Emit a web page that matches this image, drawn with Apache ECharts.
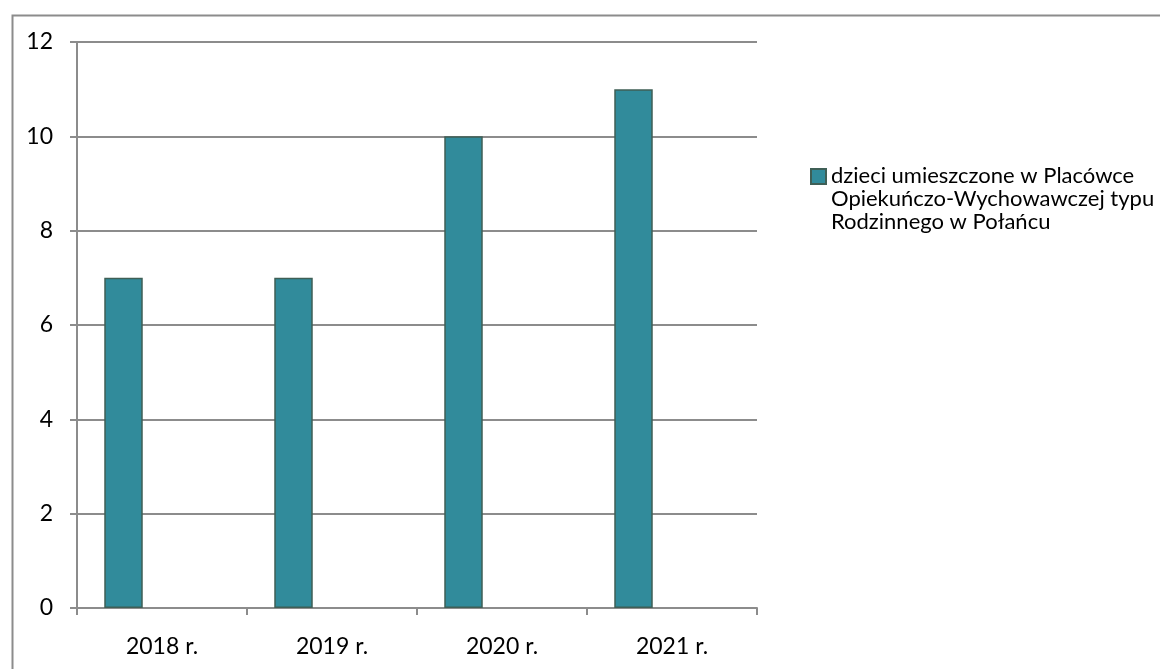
<!DOCTYPE html>
<html>
<head>
<meta charset="utf-8">
<script src="https://cdn.jsdelivr.net/npm/echarts@6/dist/echarts.min.js"></script>
<style>html,body{margin:0;padding:0;background:#fff;}#c{width:1160px;height:669px;}</style>
</head>
<body>
<div id="c"></div>
<script>
const categories = ['2018 r.', '2019 r.', '2020 r.', '2021 r.'];
const seriesName = 'dzieci umieszczone w Placówce\nOpiekuńczo-Wychowawczej typu\nRodzinnego w Połańcu';
const values = [7, 7, 10, 11];
const yTicks = {min: 0, max: 12, interval: 2};

const chart = echarts.init(document.getElementById('c'));
const font = 'Lato, "Open Sans", sans-serif';
const gridColor = '#8c8c8c';
const lh = 22.75;
const iconSize = 15;
const iconH = iconSize + 2 * lh;
chart.setOption({
  animation: false,
  graphic: [{
    type: 'rect', left: 10, top: 13, shape: {x: 0, y: 0, width: 1200, height: 700},
    style: {fill: 'none', stroke: gridColor, lineWidth: 2}, silent: true
  }],
  grid: {left: 77, right: 403, top: 42, bottom: 61, containLabel: false},
  legend: {
    data: [seriesName],
    orient: 'vertical',
    left: 810, top: 165, padding: 0,
    itemWidth: iconSize, itemHeight: iconH, itemGap: 0,
    icon: 'path://M0,0L' + iconSize + ',0L' + iconSize + ',' + iconSize + 'L0,' + iconSize + 'Z M0,' + iconH + 'L0,' + iconH,
    textStyle: {fontFamily: font, fontSize: 22, color: '#000', lineHeight: lh}
  },
  xAxis: {
    type: 'category', data: categories,
    axisLine: {lineStyle: {color: gridColor, width: 2}},
    axisTick: {show: true, length: 7, lineStyle: {color: gridColor, width: 2}},
    axisLabel: {fontFamily: font, fontSize: 23, color: '#000', margin: 27}
  },
  yAxis: {
    type: 'value', min: yTicks.min, max: yTicks.max, interval: yTicks.interval,
    axisLine: {show: true, lineStyle: {color: gridColor, width: 2}},
    axisTick: {show: true, length: 7, lineStyle: {color: gridColor, width: 2}},
    splitLine: {lineStyle: {color: gridColor, width: 2}},
    axisLabel: {fontFamily: font, fontSize: 23, color: '#000', margin: 24}
  },
  series: [
    {name: seriesName, type: 'bar', data: values, barWidth: 38.5, barGap: '0%',
     itemStyle: {color: '#318b9b', borderColor: '#3f5f56', borderWidth: 1.5}},
    {name: 'empty1', type: 'bar', data: [null, null, null, null], barWidth: 38.5, barGap: '0%'},
    {name: 'empty2', type: 'bar', data: [null, null, null, null], barWidth: 38.5, barGap: '0%'}
  ]
});
</script>
</body>
</html>
